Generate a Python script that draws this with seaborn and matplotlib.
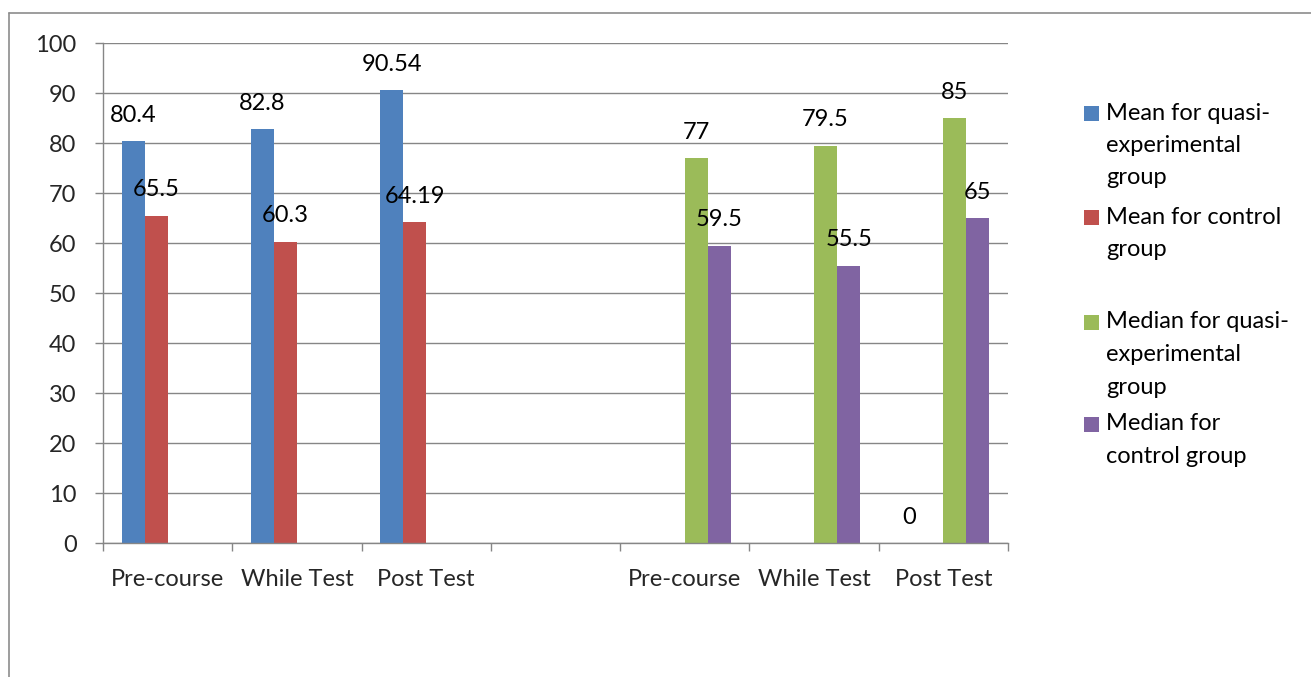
import numpy as np
import pandas as pd
import seaborn as sns
import matplotlib
matplotlib.use("Agg")
import matplotlib.pyplot as plt
from matplotlib.lines import Line2D
from matplotlib.patches import Rectangle

# ---- data -------------------------------------------------------------
categories = ["Pre-course", "While Test", "Post Test", "",
              "Pre-course", "While Test", "Post Test"]
mean_quasi = [80.4, 82.8, 90.54, np.nan, np.nan, np.nan, 0]
mean_control = [65.5, 60.3, 64.19, np.nan, np.nan, np.nan, np.nan]
median_quasi = [np.nan, np.nan, np.nan, np.nan, 77, 79.5, 85]
median_control = [np.nan, np.nan, np.nan, np.nan, 59.5, 55.5, 65]

series_names = ["Mean for quasi-experimental group",
                "Mean for control group",
                "Median for quasi-experimental group",
                "Median for control group"]
series_colors = ["#4F81BD", "#C0504D", "#9BBB59", "#8064A2"]
legend_lines = [["Mean for quasi-", "experimental", "group"],
                ["Mean for control", "group"],
                ["Median for quasi-", "experimental", "group"],
                ["Median for", "control group"]]
y_ticks = list(range(0, 101, 10))

rows = []
for name, vals in zip(series_names,
                      [mean_quasi, mean_control, median_quasi, median_control]):
    for slot, v in enumerate(vals):
        if not np.isnan(v):
            rows.append({"slot": slot, "series": name, "value": v})
df = pd.DataFrame(rows)

# ---- style ------------------------------------------------------------
sns.set_style("white")
plt.rcParams["font.family"] = ["Lato", "DejaVu Sans"]
FS = 17
GRID = "#868686"

W, H = 1311, 677
fig = plt.figure(figsize=(W / 100, H / 100), dpi=100)
fig.patch.set_facecolor("white")
ax = fig.add_axes([103 / W, 1 - 543 / H, (1008 - 103) / W, (543 - 43) / H])

sns.barplot(data=df, x="slot", y="value", hue="series",
            order=list(range(len(categories))), hue_order=series_names,
            palette=series_colors, width=0.713, dodge=True,
            errorbar=None, legend=False, linewidth=0, saturation=1, ax=ax)

for cont in ax.containers:
    ax.bar_label(cont, fmt="{:g}", padding=11, fontsize=FS, color="black")

# axes
ax.set_xlim(-0.5, len(categories) - 0.5)
ax.set_ylim(0, 100)
ax.set_yticks(y_ticks)
ax.set_xticks(range(len(categories)))
ax.set_xticklabels(categories)
ax.set_xticks(np.arange(-0.5, len(categories), 1.0), minor=True)
ax.set_xlabel("")
ax.set_ylabel("")
ax.grid(axis="y", color=GRID, linewidth=1.0)
ax.set_axisbelow(True)
for side in ["top", "right"]:
    ax.spines[side].set_visible(False)
for side in ["left", "bottom"]:
    ax.spines[side].set_color(GRID)
    ax.spines[side].set_linewidth(1.0)
ax.tick_params(axis="y", which="major", length=6, width=1.0, color=GRID,
               direction="out", left=True, pad=13, labelsize=FS)
ax.tick_params(axis="x", which="major", length=0, pad=19, labelsize=FS)
ax.tick_params(axis="x", which="minor", length=6, width=1.0, color=GRID,
               direction="out", bottom=True)

# legend
def fx(px):
    return px / W

def fy(py):
    return 1 - py / H

entry_tops = [113, 217, 322, 424]
line_step = 32.5
for top, lines, color in zip(entry_tops, legend_lines, series_colors):
    fig.add_artist(Rectangle((fx(1084), fy(top + 7.5)), 15 / W, 15 / H,
                             transform=fig.transFigure, facecolor=color,
                             edgecolor="none"))
    for i, line in enumerate(lines):
        fig.text(fx(1106), fy(top + i * line_step), line, fontsize=FS,
                 ha="left", va="center", color="black")

# outer chart frame
fig.add_artist(Line2D([fx(8.5), fx(8.5)], [fy(13), 0], transform=fig.transFigure,
                      color="#8c8c8c", linewidth=1.2))
fig.add_artist(Line2D([fx(8.5), 1], [fy(13), fy(13)], transform=fig.transFigure,
                      color="#8c8c8c", linewidth=1.2))

fig.savefig("out.png", dpi=100, facecolor="white")
